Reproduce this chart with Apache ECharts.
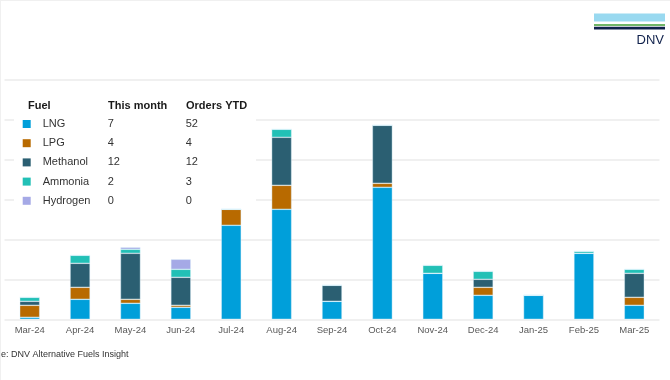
<!DOCTYPE html>
<html>
<head>
<meta charset="utf-8">
<script src="https://cdn.jsdelivr.net/npm/echarts@6/dist/echarts.min.js"></script>
<style>html,body{margin:0;padding:0;background:#fff;}#c{width:670px;height:380px;}</style>
</head>
<body>
<div id="c"></div>
<script>
const months = ['Mar-24','Apr-24','May-24','Jun-24','Jul-24','Aug-24','Sep-24','Oct-24','Nov-24','Dec-24','Jan-25','Feb-25','Mar-25'];
const fuels = ['LNG','LPG','Methanol','Ammonia','Hydrogen'];
const lng      = [1, 10, 8, 6, 47, 55, 9, 66, 23, 12, 12, 33, 7];
const lpg      = [6, 6, 2, 1, 8, 12, 0, 2, 0, 4, 0, 0, 4];
const methanol = [2, 12, 23, 14, 0, 24, 8, 29, 0, 4, 0, 0, 12];
const ammonia  = [2, 4, 2, 4, 0, 4, 0, 0, 4, 4, 0, 1, 2];
const hydrogen = [0, 0, 1, 5, 0, 0, 0, 0, 0, 0, 0, 0, 0];
const thisMonth = [7, 4, 12, 2, 0];
const ordersYTD = [52, 4, 12, 3, 0];
const colors = ['#009fda', '#b86a00', '#2b5f72', '#22c0b6', '#a5a9e6'];
const seriesData = [lng, lpg, methanol, ammonia, hydrogen];

const font = '"Liberation Sans", Arial, sans-serif';
const chart = echarts.init(document.getElementById('c'));
chart.setOption({
  animation: false,
  grid: { left: 4.5, right: 10.5, top: 79.3, height: 240, containLabel: false },
  xAxis: {
    type: 'category', data: months,
    axisLine: { show: false }, axisTick: { show: false },
    axisLabel: { color: '#595959', fontSize: 9.5, fontFamily: font, margin: 6 }
  },
  yAxis: {
    type: 'value', min: 0, max: 120, interval: 20,
    axisLabel: { show: false }, axisLine: { show: false }, axisTick: { show: false },
    splitLine: { lineStyle: { color: '#ebebeb', width: 1.5 } }
  },
  legend: {
    orient: 'vertical', left: 22.7, top: 117, padding: 0,
    itemWidth: 8, itemHeight: 8, itemGap: 5.2, icon: 'rect',
    itemStyle: { borderWidth: 0 },
    selectedMode: false, data: fuels,
    textStyle: { fontFamily: font, fontSize: 11, color: '#333', lineHeight: 14,
      rich: {
        a: { width: 65, padding: [0, 0, 0, 7], fontSize: 11, fontFamily: font, color: '#333', lineHeight: 14 },
        b: { width: 78, fontSize: 11, fontFamily: font, color: '#333', lineHeight: 14 },
        c: { fontSize: 11, fontFamily: font, color: '#333', lineHeight: 14 }
      } },
    formatter: function (name) {
      const i = fuels.indexOf(name);
      return '{a|' + name + '}{b|' + thisMonth[i] + '}{c|' + ordersYTD[i] + '}';
    }
  },
  graphic: [
    { type: 'rect', z: 1, shape: { x: 14, y: 90, width: 242, height: 116 }, style: { fill: '#fff' } },
    { type: 'text', z: 5, x: 28, y: 105.7, style: { text: 'Fuel', font: 'bold 11px ' + font, fill: '#1a1a1a', verticalAlign: 'middle' } },
    { type: 'text', z: 5, x: 108, y: 105.7, style: { text: 'This month', font: 'bold 11px ' + font, fill: '#1a1a1a', verticalAlign: 'middle' } },
    { type: 'text', z: 5, x: 186, y: 105.7, style: { text: 'Orders YTD', font: 'bold 11px ' + font, fill: '#1a1a1a', verticalAlign: 'middle' } },
    { type: 'text', z: 5, x: 1, y: 355, style: { text: 'e: DNV Alternative Fuels Insight', font: '9px ' + font, fill: '#333', verticalAlign: 'middle' } },
    { type: 'rect', z: 5, shape: { x: 594, y: 13.5, width: 71, height: 8 }, style: { fill: '#99d9f0' } },
    { type: 'rect', z: 5, shape: { x: 594, y: 24.3, width: 71, height: 1.5 }, style: { fill: '#3f9c35' } },
    { type: 'rect', z: 5, shape: { x: 594, y: 26.8, width: 71, height: 2.6 }, style: { fill: '#0f204b' } },
    { type: 'text', z: 5, x: 664, y: 40.5, style: { text: 'DNV', font: '13px ' + font, fill: '#0f204b', align: 'right', verticalAlign: 'middle' } },
    { type: 'rect', z: 5, shape: { x: 0, y: 0, width: 670, height: 1 }, style: { fill: '#f0f0f0' } },
    { type: 'rect', z: 5, shape: { x: 0, y: 0, width: 1, height: 380 }, style: { fill: '#f0f0f0' } }
  ],
  series: fuels.map((f, i) => ({
    name: f, type: 'bar', stack: 'total', barWidth: 20,
    data: seriesData[i],
    itemStyle: { color: colors[i], borderColor: 'rgba(220,240,250,0.7)', borderWidth: 0.6 }
  }))
});
</script>
</body>
</html>
